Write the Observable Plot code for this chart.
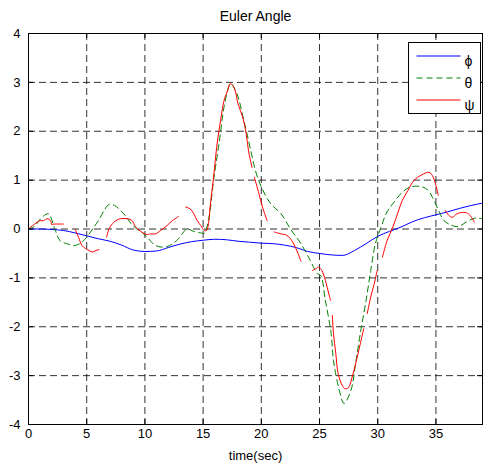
<!DOCTYPE html>
<html>
<head>
<meta charset="utf-8">
<script src="https://cdn.jsdelivr.net/npm/d3@7"></script>
<script src="https://cdn.jsdelivr.net/npm/@observablehq/plot@0.6"></script>
<style>
  html, body { margin: 0; padding: 0; background: #fff; }
</style>
</head>
<body>
<div id="chart"></div>
<script>
const titleText = "Euler Angle";
const xLabelText = "time(sec)";
const xTicks = [0, 5, 10, 15, 20, 25, 30, 35];
const yTicks = [-4, -3, -2, -1, 0, 1, 2, 3, 4];
const seriesNames = ["ϕ", "θ", "ψ"];
const seriesColors = ["#0000ff", "#008000", "#ff0000"];

// phi (blue)
const phiT = [0,1,2,3,4,5,6,7,8,9,10,11,12,13,14,15,16,17,18,19,20,21,22,23,24,25,26,27,28,29,30,31,32,33,34,35,36,37,38,39];
const phiV = [0,0,-0.01,-0.03,-0.08,-0.14,-0.2,-0.25,-0.33,-0.43,-0.46,-0.45,-0.38,-0.31,-0.26,-0.23,-0.21,-0.22,-0.25,-0.27,-0.29,-0.3,-0.33,-0.38,-0.46,-0.5,-0.53,-0.54,-0.44,-0.3,-0.15,-0.05,0.04,0.15,0.23,0.29,0.35,0.42,0.48,0.53];

// theta (green dashed)
const thetaT = [0,0.5,1,1.7,2.3,2.75,3.3,3.9,4.4,5,5.5,6,6.5,6.9,7.4,7.9,8.4,8.8,9.3,9.7,10.2,10.8,11.4,11.9,12.4,12.8,13.2,13.6,14.2,14.8,15.1,15.5,15.9,16.4,16.8,17.2,17.4,17.9,18.5,19.1,19.5,20.0,20.8,21.7,22.5,23.4,24.2,24.8,25.1,25.5,26.0,26.2,26.7,27.1,27.7,28.1,28.5,29.0,29.4,29.8,30.3,30.8,31.4,32.1,32.8,33.7,34.3,34.7,35.3,35.7,36.3,36.9,37.6,38.3,39];
const thetaV = [0,0.05,0.2,0.31,-0.03,-0.25,-0.3,-0.34,-0.3,-0.17,0,0.17,0.38,0.5,0.48,0.38,0.25,0.11,0,-0.06,-0.17,-0.32,-0.37,-0.36,-0.3,-0.22,-0.1,0,-0.05,-0.08,-0.09,0.24,1.0,1.8,2.5,2.9,2.97,2.77,2.22,1.6,1.19,0.86,0.52,0.31,0,-0.3,-0.64,-0.91,-0.95,-1.46,-2.14,-2.69,-3.3,-3.57,-3.3,-2.75,-2.14,-1.46,-0.85,-0.3,0.05,0.35,0.55,0.75,0.86,0.87,0.8,0.65,0.34,0.17,0.08,0.05,0.14,0.22,0.21];

// psi (red), NaN marks a break in the line
const psiT = [0,0.2,0.75,1,1.3,1.6,1.9,2.0,2.2,3.0, NaN,
  4.0,4.3,4.6,4.9,5.2,5.5,5.8,6.05, NaN,
  6.7,7.0,7.5,7.9,8.5,8.9,9.2,9.6,10.1,10.5,10.9,11.35,11.9,12.35,12.6,12.9, NaN,
  13.5,13.9,14.2,14.5,14.8,15.1,15.3,15.5,15.6,15.9,16.2,16.5,16.8,17.1,17.3,17.5,17.75,18.0,18.4,18.7,18.9,19.2, NaN,
  19.4,19.8,20.1,20.5, NaN,
  21.1,21.7,22.2,22.7,23.1,23.4, NaN,
  24.4,24.7,24.9,25.2,25.5,25.8,25.95, NaN,
  26.1,26.2,26.4,26.6,26.95,27.2,27.5,27.8,28.1,28.5,28.8, NaN,
  29.1,29.4,29.7,29.95, NaN,
  30.4,30.8,31.3,31.7,32.1,32.6,33.1,33.8,34.4,34.7,35.0,35.2, NaN,
  35.8,36.1,36.4,36.8,37.4,37.8,38.3];
const psiV = [0,0.04,0.14,0.17,0.17,0.21,0.17,0.09,0.1,0.1, NaN,
  0.0,-0.17,-0.34,-0.4,-0.44,-0.47,-0.44,-0.42, NaN,
  -0.17,0.04,0.17,0.21,0.21,0.17,0.04,-0.04,-0.11,-0.1,-0.1,-0.03,0.07,0.17,0.21,0.26, NaN,
  0.45,0.41,0.31,0.17,0.07,-0.03,-0.03,0.17,0.45,1.06,1.74,2.22,2.63,2.83,2.97,2.95,2.83,2.56,2.29,1.95,1.6,1.26, NaN,
  1.06,0.72,0.45,0.17, NaN,
  -0.06,-0.1,-0.13,-0.27,-0.47,-0.66, NaN,
  -0.85,-0.81,-0.78,-0.85,-1.05,-1.33,-1.46, NaN,
  -1.77,-2.14,-2.55,-2.96,-3.2,-3.27,-3.24,-3.03,-2.76,-2.35,-2.04, NaN,
  -1.73,-1.39,-1.12,-0.85, NaN,
  -0.58,-0.24,0.04,0.31,0.58,0.79,0.99,1.11,1.16,1.09,0.89,0.69, NaN,
  0.38,0.28,0.24,0.31,0.34,0.31,0.14];

const phi = phiT.map((t, i) => ({t, v: phiV[i]}));
const theta = thetaT.map((t, i) => ({t, v: thetaV[i]}));
const psi = psiT.map((t, i) => ({t, v: psiV[i]}));

const W = 483, H = 467;
const mL = 28, mR = 1, mT = 33, mB = 43;
const plotW = W - mL - mR, plotH = H - mT - mB;
const tickLen = 5;
const fmt = d => String(d);

// legend layout (pixels relative to the frame's top-left corner)
const lgBox = {left: 380, top: 9, right: 2, bottom: 311};
const lgRowDy = [22.5, 44.5, 66.5];
const lgLineCx = 410, lgLabelDx = 436;
const lineSymbol = {draw(ctx) { ctx.moveTo(-22, 0); ctx.lineTo(22, 0); }};

const legendMarks = [
  Plot.frame({insetLeft: lgBox.left, insetTop: lgBox.top, insetRight: lgBox.right, insetBottom: lgBox.bottom, fill: "#fff", stroke: "#000"}),
  ...seriesNames.flatMap((name, i) => [
    Plot.dot([name], {frameAnchor: "top-left", dx: lgLineCx, dy: lgRowDy[i], symbol: lineSymbol, r: 4, fill: "none",
      stroke: seriesColors[i], strokeWidth: 1, strokeDasharray: i === 1 ? "6,4" : null}),
    Plot.text([name], {frameAnchor: "top-left", dx: lgLabelDx, dy: lgRowDy[i], textAnchor: "start", fontSize: 14, fill: "#000"})
  ])
];

const chart = Plot.plot({
  width: W,
  height: H,
  marginLeft: mL,
  marginRight: mR,
  marginTop: mT,
  marginBottom: mB,
  style: {fontFamily: "'Liberation Sans', Arial, sans-serif", fontSize: "13px", background: "#fff", color: "#000"},
  x: {domain: [0, 39]},
  y: {domain: [-4, 4]},
  marks: [
    Plot.ruleX(xTicks, {stroke: "#000", strokeOpacity: 0.8, strokeDasharray: "7,4"}),
    Plot.ruleY(yTicks, {stroke: "#000", strokeOpacity: 0.8, strokeDasharray: "7,4"}),
    Plot.line(phi, {x: "t", y: "v", stroke: seriesColors[0], strokeWidth: 1, curve: "monotone-x"}),
    Plot.line(theta, {x: "t", y: "v", stroke: seriesColors[1], strokeWidth: 1, strokeDasharray: "6,4", curve: "catmull-rom"}),
    Plot.line(psi, {x: "t", y: "v", stroke: seriesColors[2], strokeWidth: 1, curve: "catmull-rom"}),
    Plot.frame({stroke: "#000", strokeWidth: 1}),
    Plot.ruleX(xTicks, {stroke: "#000", insetTop: plotH - tickLen}),
    Plot.ruleX(xTicks, {stroke: "#000", insetBottom: plotH - tickLen}),
    Plot.ruleY(yTicks, {stroke: "#000", insetRight: plotW - tickLen}),
    Plot.ruleY(yTicks, {stroke: "#000", insetLeft: plotW - tickLen}),
    Plot.axisX(xTicks, {tickSize: 0, tickPadding: 4, label: null, tickFormat: fmt, fontSize: 13}),
    Plot.axisY(yTicks, {tickSize: 0, tickPadding: 8, label: null, tickFormat: fmt, fontSize: 13}),
    Plot.text([titleText], {frameAnchor: "top", lineAnchor: "bottom", dy: -13, fontSize: 14}),
    Plot.text([xLabelText], {frameAnchor: "bottom", lineAnchor: "top", dy: 26, fontSize: 13}),
    ...legendMarks
  ]
});
document.getElementById("chart").appendChild(chart);
</script>
</body>
</html>
